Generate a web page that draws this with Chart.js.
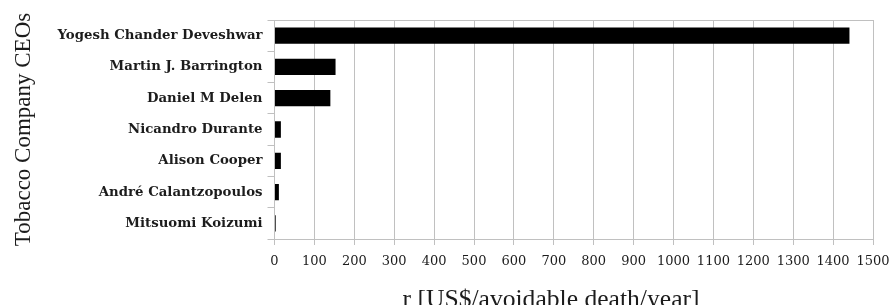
<!DOCTYPE html>
<html>
<head>
<meta charset="utf-8">
<script src="https://cdn.jsdelivr.net/npm/chart.js@4/dist/chart.umd.min.js"></script>
<style>
html,body{margin:0;padding:0;background:#fff;}
#wrap{width:891px;height:305px;position:relative;}
</style>
</head>
<body>
<div id="wrap"><canvas id="c" width="891" height="305"></canvas></div>
<script>
const categories = [
  "Yogesh Chander Deveshwar",
  "Martin J. Barrington",
  "Daniel M Delen",
  "Nicandro Durante",
  "Alison Cooper",
  "André Calantzopoulos",
  "Mitsuomi Koizumi"
];
const values = [1441, 153, 140, 16, 16, 11, 3];
const xTicks = [0,100,200,300,400,500,600,700,800,900,1000,1100,1200,1300,1400,1500];
const yTitle = "Tobacco Company CEOs";
const xTitle = "r [US$/avoidable death/year]";

const GRID = "#c0c0c0";
const TXT = "#1c1c1c";

const xTitlePlugin = {
  id: 'xTitlePlugin',
  afterDraw(chart) {
    const ctx = chart.ctx;
    const area = chart.chartArea;
    ctx.save();
    ctx.font = "25.6px 'Liberation Serif'";
    ctx.fillStyle = TXT;
    ctx.textAlign = "center";
    ctx.textBaseline = "middle";
    ctx.fillText(xTitle, area.left + (area.right - area.left) * 0.462, 300);
    ctx.restore();
  }
};

new Chart(document.getElementById('c'), {
  type: 'bar',
  data: {
    labels: categories,
    datasets: [{
      data: values,
      backgroundColor: '#000',
      borderWidth: 0,
      barPercentage: 0.52,
      categoryPercentage: 1
    }]
  },
  options: {
    indexAxis: 'y',
    responsive: false,
    animation: false,
    layout: { padding: { top: 20, right: 18, bottom: 0, left: 0 } },
    plugins: { legend: { display: false }, tooltip: { enabled: false } },
    scales: {
      x: {
        type: 'linear',
        min: 0,
        max: 1500,
        afterBuildTicks(scale) { scale.ticks = xTicks.map(v => ({ value: v })); },
        afterFit(scale) { scale.height = 66; scale.paddingRight = 0; scale.paddingLeft = 0; },
        grid: { color: GRID, lineWidth: 1, tickLength: 6, tickColor: GRID, drawTicks: true },
        border: { color: GRID, width: 1 },
        ticks: {
          font: { family: "'DejaVu Serif'", size: 13 },
          color: TXT,
          padding: 9,
          maxRotation: 0,
          autoSkip: false,
          callback: (v) => String(v)
        }
      },
      y: {
        afterFit(scale) { scale.width = 274.5; scale.paddingTop = 0; scale.paddingBottom = 0; },
        grid: {
          offset: true,
          color: (c) => (c.index === 0 ? GRID : 'rgba(0,0,0,0)'),
          tickColor: GRID,
          tickLength: 7,
          lineWidth: 1
        },
        border: { color: GRID, width: 1 },
        ticks: {
          font: { family: "'DejaVu Serif'", size: 13.3, weight: 'bold' },
          color: TXT,
          padding: 5,
          autoSkip: false
        },
        title: {
          display: true,
          text: yTitle,
          font: { family: "'Liberation Serif'", size: 23 },
          color: TXT,
          padding: { top: 10, bottom: 0 }
        }
      }
    }
  },
  plugins: [xTitlePlugin]
});
</script>
</body>
</html>
